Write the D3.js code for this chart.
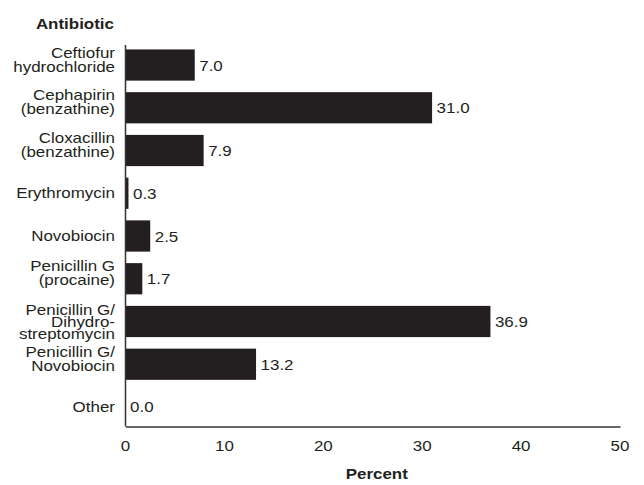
<!DOCTYPE html>
<html>
<head>
<meta charset="utf-8">
<script src="https://cdn.jsdelivr.net/npm/d3@7"></script>
<style>
  body { margin: 0; background: #fff; }
  text { font-family: "Liberation Sans", Arial, sans-serif; fill: #231f20; }
</style>
</head>
<body>
<svg width="644" height="485"></svg>
<script>
const categories = [
  ["Ceftiofur", "hydrochloride"],
  ["Cephapirin", "(benzathine)"],
  ["Cloxacillin", "(benzathine)"],
  ["Erythromycin"],
  ["Novobiocin"],
  ["Penicillin G", "(procaine)"],
  ["Penicillin G/", "Dihydro-", "streptomycin"],
  ["Penicillin G/", "Novobiocin"],
  ["Other"],
];
const percents = [7.0, 31.0, 7.9, 0.3, 2.5, 1.7, 36.9, 13.2, 0.0];
const xTicks = [0, 10, 20, 30, 40, 50];

const data = categories.map((c, i) => ({ lines: c, value: percents[i], i }));

const svg = d3.select("svg");
const sx = 1.13; // text in the original is a bit wider than Arial
const fs = 15;

const x = d3.scaleLinear().domain([0, 50]).range([125.5, 620]);
const y = d3.scaleBand()
  .domain(d3.range(data.length))
  .range([46, 426])
  .paddingInner(0.27)
  .paddingOuter(0.08);

function txt(g, tx, ty, s, anchor, bold) {
  return g.append("text")
    .attr("transform", `translate(${tx},${ty}) scale(${sx},1)`)
    .attr("text-anchor", anchor)
    .attr("font-size", fs)
    .attr("font-weight", bold ? "bold" : null)
    .text(s);
}

// bars
svg.append("g")
  .selectAll("rect")
  .data(data)
  .join("rect")
  .attr("x", x(0))
  .attr("y", (d) => y(d.i))
  .attr("width", (d) => x(d.value) - x(0))
  .attr("height", y.bandwidth())
  .attr("fill", "#231f20");

// value labels
const vals = svg.append("g");
data.forEach((d) => {
  txt(vals, x(d.value) + 4.5, y(d.i) + y.bandwidth() / 2 + 5.5, d.value.toFixed(1), "start");
});

// category labels
const cats = svg.append("g");
data.forEach((d) => {
  const c = y(d.i) + y.bandwidth() / 2;
  const n = d.lines.length;
  const lh = n > 2 ? 12.2 : 14;
  const y0 = n === 1 ? c + 5 : c - 7 + (n > 2 ? 0.5 : -0.5);
  d.lines.forEach((s, k) => txt(cats, 115, y0 + k * lh, s, "end"));
});

// axes (lines only, no ticks)
svg.append("line")
  .attr("x1", x(0)).attr("x2", x(0))
  .attr("y1", 45).attr("y2", 426.5)
  .attr("stroke", "#333").attr("stroke-width", 1.5);

const xAxis = svg.append("g")
  .attr("transform", "translate(0,426.5)")
  .call(d3.axisBottom(x).tickValues(xTicks).tickSize(0).tickPadding(0));
xAxis.select(".domain").attr("stroke", "#333").attr("stroke-width", 1.5);
xAxis.selectAll(".tick text").remove();
const tickG = svg.append("g");
xTicks.forEach((t) => txt(tickG, x(t), 451, String(t), "middle"));

// titles
txt(svg, 114, 29, "Antibiotic", "end", true);
txt(svg, (x(0) + x(50)) / 2 + 4, 479, "Percent", "middle", true);
</script>
</body>
</html>
